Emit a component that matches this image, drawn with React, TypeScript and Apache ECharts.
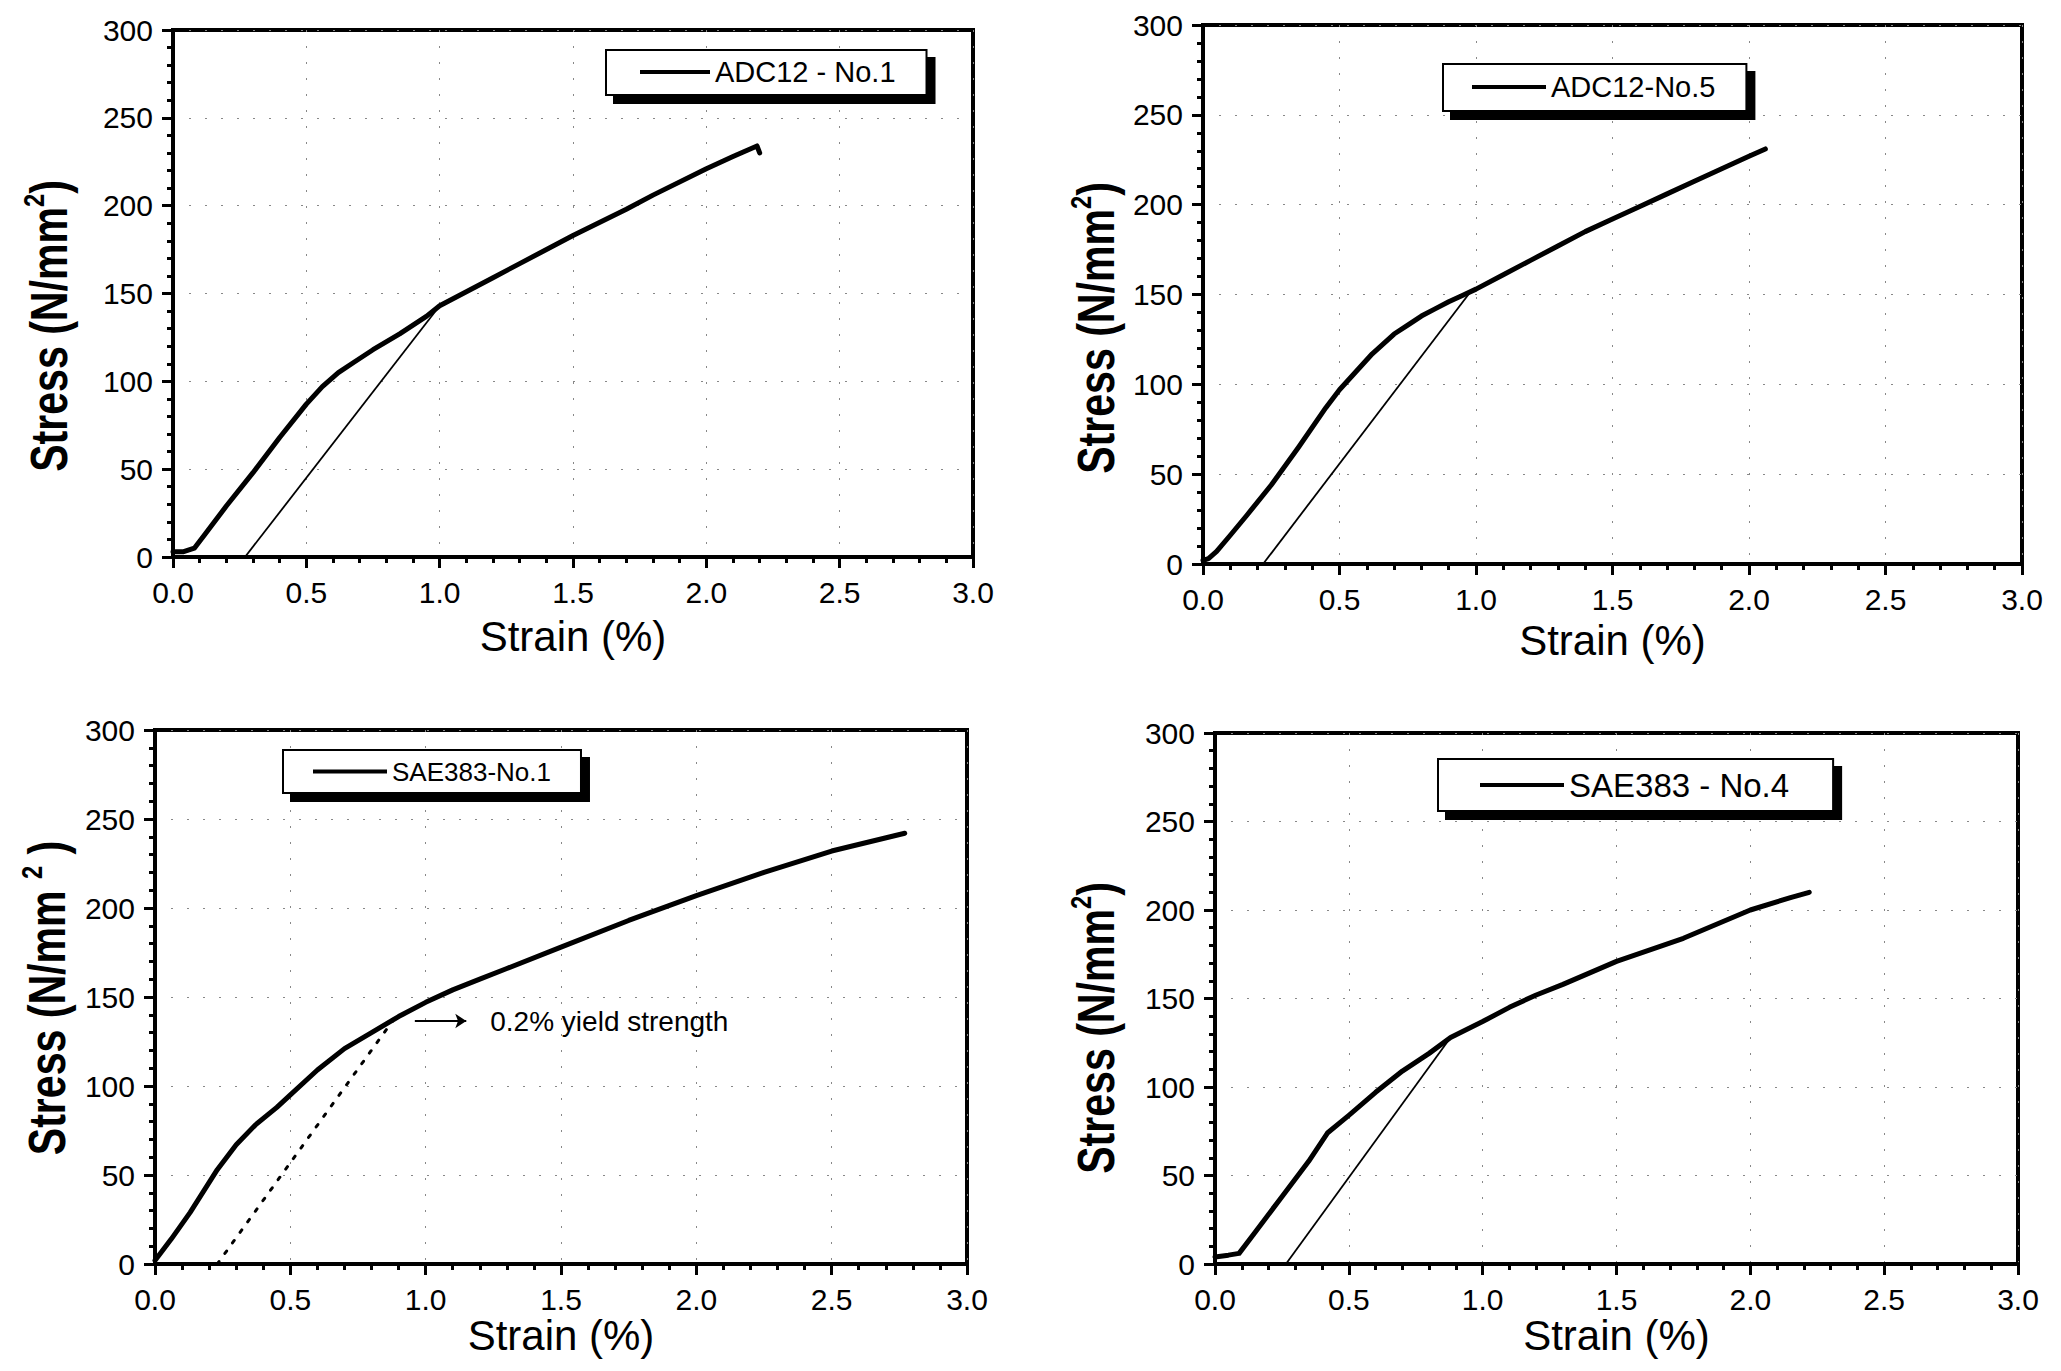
import React, { useEffect, useRef } from 'react';
import * as echarts from 'echarts';

// ---------- data ----------
const strainTicks = [0, 0.5, 1.0, 1.5, 2.0, 2.5, 3.0];
const stressTicks = [0, 50, 100, 150, 200, 250, 300];

const name1 = 'ADC12 - No.1';
const strain1 = [0, 0.04, 0.08, 0.12, 0.2, 0.3, 0.4, 0.5, 0.56, 0.62, 0.68, 0.75, 0.85, 0.95, 1.0, 1.1, 1.2, 1.3, 1.5, 1.7, 1.8, 2.0, 2.1, 2.19, 2.2];
const stress1 = [3, 3, 5, 13, 29, 48, 68, 87, 97, 105, 111, 118, 127, 137, 143, 151, 159, 167, 183, 198, 206, 221, 228, 234, 230];
const offsetStrain1 = [0.27, 1.0];
const offsetStress1 = [0, 143];

const name2 = 'ADC12-No.5';
const strain2 = [0, 0.02, 0.05, 0.1, 0.16, 0.25, 0.35, 0.45, 0.5, 0.56, 0.62, 0.7, 0.75, 0.8, 0.85, 0.9, 0.95, 1.0, 1.1, 1.2, 1.3, 1.4, 1.5, 1.6, 1.7, 1.8, 1.9, 2.0, 2.06];
const stress2 = [2, 3, 7, 16, 27, 44, 65, 87, 97, 107, 117, 128, 133, 138, 142, 146, 149.5, 153, 161, 169, 177, 185, 192, 199, 206, 213, 220, 227, 231];
const offsetStrain2 = [0.22, 0.98];
const offsetStress2 = [0, 151.5];

const name3 = 'SAE383-No.1';
const strain3 = [0, 0.06, 0.13, 0.23, 0.3, 0.37, 0.45, 0.5, 0.6, 0.7, 0.8, 0.9, 1.0, 1.1, 1.2, 1.3, 1.5, 1.75, 2.0, 2.25, 2.5, 2.77];
const stress3 = [2, 14, 29, 53, 67, 78, 88, 95, 109, 121, 130, 139, 147, 154, 160, 166, 178, 193, 207, 220, 232, 242];
const offsetStrain3 = [0.23, 0.88];
const offsetStress3 = [0, 137];
const yieldArrowStrain = [0.96, 1.15];
const yieldArrowStress = 136.5;
const yieldLabel = '0.2% yield strength';

const name4 = 'SAE383 - No.4';
const strain4 = [0, 0.05, 0.09, 0.15, 0.25, 0.35, 0.42, 0.5, 0.6, 0.7, 0.8, 0.88, 1.0, 1.1, 1.2, 1.3, 1.5, 1.75, 2.0, 2.15, 2.22];
const stress4 = [4, 5, 6, 18, 38, 58, 74, 84, 97, 109, 119, 128, 137, 145, 152, 158, 171, 184, 200, 207, 210];
const offsetStrain4 = [0.265, 0.88];
const offsetStress4 = [0, 128];

const xAxisTitle = 'Strain (%)';

// ---------- helpers ----------
const FONT = '"Liberation Sans", Arial, Helvetica, sans-serif';
const pairs = (xs: number[], ys: number[]) => xs.map((x, i) => [x, ys[i]]);

const grids = [
  { left: 173, top: 30, width: 800, height: 527 },
  { left: 1203, top: 25, width: 819, height: 539 },
  { left: 155, top: 730, width: 812, height: 534 },
  { left: 1215, top: 733, width: 803, height: 531 },
];
const xNameGaps = [58, 55, 46, 46];

const gridDots = { show: true, lineStyle: { color: '#888', width: 1, type: [2, 14] } };

function makeX(i: number) {
  return {
    type: 'value',
    gridIndex: i,
    min: strainTicks[0],
    max: strainTicks[strainTicks.length - 1],
    interval: strainTicks[1] - strainTicks[0],
    name: xAxisTitle,
    nameLocation: 'middle',
    nameGap: xNameGaps[i],
    nameTextStyle: { fontFamily: FONT, fontSize: 42, color: '#000' },
    axisLine: { show: true, onZero: false, lineStyle: { color: '#000', width: 4 } },
    axisTick: { show: true, inside: false, length: 11, lineStyle: { color: '#000', width: 3 } },
    minorTick: { show: true, splitNumber: 5, length: 6, lineStyle: { color: '#000', width: 3 } },
    axisLabel: {
      show: true, margin: 20, color: '#000', fontFamily: FONT, fontSize: 30,
      formatter: (v: number) => v.toFixed(1),
    },
    splitLine: gridDots,
  };
}

function makeY(i: number) {
  return {
    type: 'value',
    gridIndex: i,
    min: stressTicks[0],
    max: stressTicks[stressTicks.length - 1],
    interval: stressTicks[1] - stressTicks[0],
    axisLine: { show: true, onZero: false, lineStyle: { color: '#000', width: 4 } },
    axisTick: { show: true, inside: false, length: 11, lineStyle: { color: '#000', width: 3 } },
    minorTick: { show: true, splitNumber: 5, length: 6, lineStyle: { color: '#000', width: 3 } },
    axisLabel: { show: true, margin: 20, color: '#000', fontFamily: FONT, fontSize: 30 },
    splitLine: gridDots,
  };
}

function mainSeries(i: number, name: string, xs: number[], ys: number[], extra: any = {}) {
  return {
    type: 'line',
    name,
    xAxisIndex: i,
    yAxisIndex: i,
    data: pairs(xs, ys),
    symbol: 'none',
    showSymbol: false,
    smooth: false,
    lineStyle: { color: '#000', width: 5, join: 'round', cap: 'round' },
    itemStyle: { color: '#000' },
    z: 3,
    ...extra,
  };
}

function offsetSeries(i: number, xs: number[], ys: number[], dotted = false) {
  return {
    type: 'line',
    name: 'offset-' + i,
    xAxisIndex: i,
    yAxisIndex: i,
    data: pairs(xs, ys),
    symbol: 'none',
    showSymbol: false,
    lineStyle: dotted
      ? { color: '#000', width: 3, type: [3, 10], cap: 'round' }
      : { color: '#000', width: 1.8 },
    itemStyle: { color: '#000' },
    z: 2,
  };
}

function makeLegend(name: string, left: number, top: number, padding: number[], itemWidth: number, fontSize: number, lineHeight: number) {
  return {
    show: true,
    data: [name],
    left,
    top,
    orient: 'horizontal',
    padding,
    itemWidth,
    itemHeight: 4,
    icon: 'rect',
    selectedMode: false,
    backgroundColor: '#fff',
    borderColor: '#000',
    borderWidth: 2,
    shadowColor: '#000',
    shadowBlur: 0,
    shadowOffsetX: 8,
    shadowOffsetY: 8,
    textStyle: { fontFamily: FONT, fontSize, lineHeight, color: '#000' },
  };
}

function yTitle(x: number, y: number, spaced: boolean) {
  const text = spaced
    ? '{m|Stress (N/mm }{s|2}{m| )}'
    : '{m|Stress (N/mm}{s|2}{m|)}';
  return {
    type: 'text',
    x,
    y,
    rotation: Math.PI / 2,
    scaleX: 0.79,
    silent: true,
    style: {
      text,
      align: 'center',
      verticalAlign: 'middle',
      fill: '#000',
      rich: {
        m: { fontFamily: FONT, fontSize: 52, fontWeight: 'bold', lineHeight: 60, fill: '#000', verticalAlign: 'middle' },
        s: { fontFamily: FONT, fontSize: 30, fontWeight: 'bold', lineHeight: 30, fill: '#000', verticalAlign: 'top' },
      },
    },
  };
}

export default function App() {
  const ref = useRef<HTMLDivElement>(null);

  useEffect(() => {
    if (!ref.current) return;
    const chart = echarts.init(ref.current, undefined, { renderer: 'svg' });
    const option: any = {
      animation: false,
      backgroundColor: '#fff',
      color: ['#000'],
      textStyle: { fontFamily: FONT },
      grid: grids.map((g) => ({
        ...g,
        show: true,
        borderColor: '#000',
        borderWidth: 4,
        backgroundColor: 'transparent',
        containLabel: false,
        outerBoundsMode: 'none',
      })),
      xAxis: [0, 1, 2, 3].map(makeX),
      yAxis: [0, 1, 2, 3].map(makeY),
      legend: [
        makeLegend(name1, 606, 50, [7, 31, 8, 34], 70, 29, 30),
        makeLegend(name2, 1443, 64, [8, 31, 9, 29], 74, 29, 30),
        makeLegend(name3, 283, 750, [7, 30, 7, 30], 74, 26, 29),
        makeLegend(name4, 1438, 759, [9, 44, 9, 42], 84, 33, 34),
      ],
      graphic: [
        yTitle(49, 326, false),
        yTitle(1096, 328, false),
        yTitle(47, 998, true),
        yTitle(1096, 1028, false),
      ],
      series: [
        mainSeries(0, name1, strain1, stress1),
        offsetSeries(0, offsetStrain1, offsetStress1),
        mainSeries(1, name2, strain2, stress2),
        offsetSeries(1, offsetStrain2, offsetStress2),
        mainSeries(2, name3, strain3, stress3, {
          markLine: {
            silent: true,
            symbol: ['none', 'arrow'],
            symbolSize: 11,
            lineStyle: { color: '#000', width: 2, type: 'solid' },
            label: {
              show: true,
              position: 'end',
              distance: 24,
              formatter: yieldLabel,
              color: '#000',
              fontFamily: FONT,
              fontSize: 28,
            },
            data: [[
              { coord: [yieldArrowStrain[0], yieldArrowStress] },
              { coord: [yieldArrowStrain[1], yieldArrowStress] },
            ]],
          },
        }),
        offsetSeries(2, offsetStrain3, offsetStress3, true),
        mainSeries(3, name4, strain4, stress4),
        offsetSeries(3, offsetStrain4, offsetStress4),
      ],
    };
    chart.setOption(option);
    return () => chart.dispose();
  }, []);

  return (
    <div
      ref={ref}
      style={{ position: 'absolute', left: 0, top: 0, width: 2061, height: 1371, background: '#fff' }}
    />
  );
}
